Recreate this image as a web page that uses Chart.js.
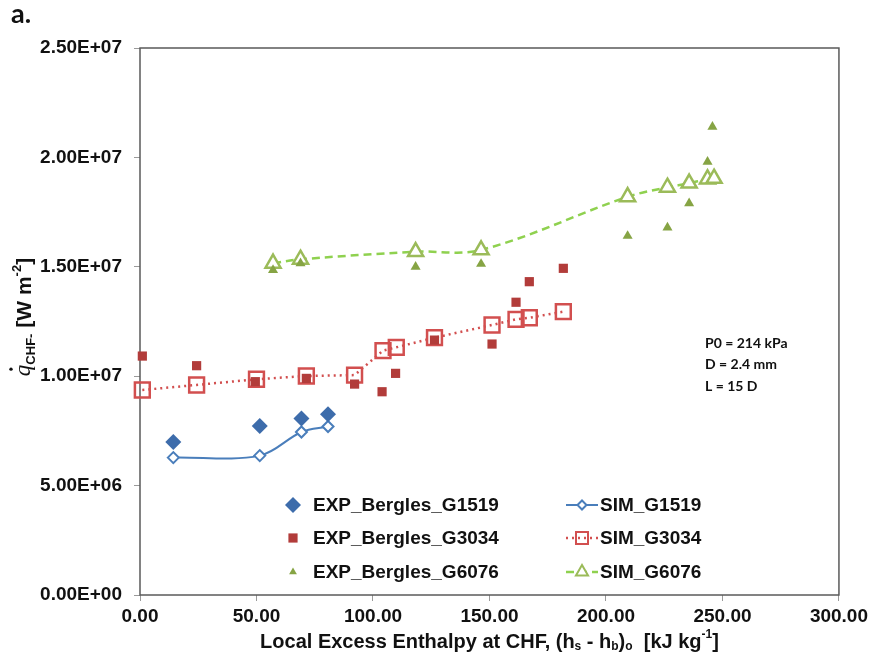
<!DOCTYPE html>
<html>
<head>
<meta charset="utf-8">
<script src="https://cdn.jsdelivr.net/npm/chart.js@4.4.1/dist/chart.umd.min.js"></script>
<style>
  html, body { margin: 0; padding: 0; background: #fff; }
  #wrap { width: 872px; height: 662px; }
</style>
</head>
<body>
<div id="wrap"><canvas id="chart" width="872" height="662"></canvas></div>
<script>
// ── Données ───────────────────────────────────────────────────────────────────
const xTicks = [0, 50, 100, 150, 200, 250, 300];
const yTicks = [0, 5e6, 1e7, 1.5e7, 2e7, 2.5e7];

const expG1519X = [14.3, 51.4, 69.3, 80.7];
const expG1519Y = [6.99e6, 7.72e6, 8.07e6, 8.26e6];
const simG1519X = [14.3, 51.4, 69.3, 80.7];
const simG1519Y = [6.28e6, 6.37e6, 7.45e6, 7.70e6];

const expG3034X = [1.0, 24.3, 49.5, 71.4, 92.1, 103.9, 109.7, 126.4, 151.1, 161.4, 167.1, 181.7];
const expG3034Y = [10.92e6, 10.48e6, 9.75e6, 9.90e6, 9.64e6, 9.29e6, 10.13e6, 11.65e6, 11.47e6, 13.38e6, 14.32e6, 14.93e6];
const simG3034X = [1.0, 24.3, 50.0, 71.4, 92.1, 104.3, 110.0, 126.4, 151.1, 161.4, 167.1, 181.7];
const simG3034Y = [9.37e6, 9.60e6, 9.86e6, 10.01e6, 10.05e6, 11.17e6, 11.32e6, 11.76e6, 12.34e6, 12.60e6, 12.67e6, 12.95e6];

const expG6076X = [57.1, 68.9, 118.3, 146.4, 209.3, 226.4, 235.7, 243.6, 245.7];
const expG6076Y = [14.85e6, 15.16e6, 15.00e6, 15.13e6, 16.41e6, 16.79e6, 17.90e6, 19.80e6, 21.40e6];
const simG6076X = [57.1, 68.9, 118.3, 146.4, 209.3, 226.4, 235.7, 243.6, 246.4];
const simG6076Y = [15.16e6, 15.34e6, 15.69e6, 15.77e6, 18.20e6, 18.63e6, 18.82e6, 19.01e6, 19.04e6];

const notes = ["P0 = 214 kPa", "D = 2.4 mm", "L = 15 D"];

// ── Styles ────────────────────────────────────────────────────────────────────
const SANS = "'Liberation Sans', Arial, sans-serif";
const C = {
  expBlue: "#3D6CAB", simBlue: "#4A7EBB",
  expRed: "#B23C3A",  simRed: "#D24F4F",
  expGreen: "#86A444", simGreen: "#9BBB59", lineGreen: "#8FD14F",
  axis: "#5a5a5a", tick: "#9a9a9a", text: "#111",
};

const pts = (xs, ys) => xs.map((x, i) => ({ x, y: ys[i] }));

const sci = v => {
  if (v === 0) return "0.00E+00";
  const [m, e] = v.toExponential(2).split("e");
  const n = parseInt(e, 10);
  return `${m}E${n < 0 ? "-" : "+"}${String(Math.abs(n)).padStart(2, "0")}`;
};

const datasets = [
  { label: "EXP_Bergles_G1519", data: pts(expG1519X, expG1519Y), pointStyle: "rectRot", pointRadius: 8,
    backgroundColor: C.expBlue, borderColor: C.expBlue, pointBorderWidth: 0, showLine: false, order: 1 },
  { label: "EXP_Bergles_G3034", data: pts(expG3034X, expG3034Y), pointStyle: "rect", pointRadius: 6.5,
    backgroundColor: C.expRed, borderColor: C.expRed, pointBorderWidth: 0, showLine: false, order: 1 },
  { label: "EXP_Bergles_G6076", data: pts(expG6076X, expG6076Y), pointStyle: "triangle", pointRadius: 5.8,
    backgroundColor: C.expGreen, borderColor: C.expGreen, pointBorderWidth: 0, showLine: false, order: 1 },
  { label: "SIM_G1519", data: pts(simG1519X, simG1519Y), pointStyle: "rectRot", pointRadius: 5.5,
    pointBackgroundColor: "#fff", pointBorderColor: C.simBlue, pointBorderWidth: 2,
    borderColor: C.simBlue, borderWidth: 2, showLine: true, tension: 0.35, order: 2 },
  { label: "SIM_G3034", data: pts(simG3034X, simG3034Y), pointStyle: "rect", pointRadius: 10.5,
    pointBackgroundColor: "rgba(255,255,255,0)", pointBorderColor: C.simRed, pointBorderWidth: 2.5,
    borderColor: C.simRed, borderWidth: 2.5, borderDash: [2, 4], showLine: true, tension: 0, order: 2 },
  { label: "SIM_G6076", data: pts(simG6076X, simG6076Y), pointStyle: "triangle", pointRadius: 8.7,
    pointBackgroundColor: "#fff", pointBorderColor: C.simGreen, pointBorderWidth: 2.5,
    borderColor: C.lineGreen, borderWidth: 2.5, borderDash: [8, 5], showLine: true, tension: 0.35, order: 2 },
];

// ── Légende + textes dessinés dans le graphique ──────────────────────────────
function drawRich(ctx, parts, cx, cy) {
  // parts: [texte, police, décalage vertical]
  let total = 0;
  parts.forEach(p => { ctx.font = p[1]; total += ctx.measureText(p[0]).width; });
  let x = cx - total / 2;
  const pos = [];
  parts.forEach(p => {
    ctx.font = p[1];
    ctx.fillText(p[0], x, cy + p[2]);
    pos.push(x);
    x += ctx.measureText(p[0]).width;
  });
  return pos;
}

const frame = {
  id: "frame",
  beforeDatasetsDraw(chart) {
    const { ctx, chartArea: a } = chart;
    ctx.save();
    ctx.strokeStyle = C.axis;
    ctx.lineWidth = 1.5;
    ctx.strokeRect(a.left, a.top, a.right - a.left, a.bottom - a.top);
    ctx.restore();
  },
  afterDraw(chart) {
    const { ctx, chartArea: a } = chart;
    const drawPoint = Chart.helpers.drawPoint;
    ctx.save();
    ctx.fillStyle = C.text;
    ctx.textBaseline = "middle";
    ctx.textAlign = "left";

    // légende (2 colonnes)
    const rows = [505, 538, 572];
    const legendFont = `bold 19px ${SANS}`;
    [[0, 3, 8], [1, 4, 6.5], [2, 5, 4.5]].forEach(([e, s, er], i) => {
      const y = rows[i];
      const de = datasets[e], ds = datasets[s];
      ctx.fillStyle = de.backgroundColor;
      drawPoint(ctx, { pointStyle: de.pointStyle, radius: er, borderWidth: 0, rotation: 0 }, 293, y);

      ctx.save();
      ctx.strokeStyle = ds.borderColor;
      ctx.lineWidth = ds.borderWidth;
      ctx.setLineDash(ds.borderDash || []);
      ctx.beginPath(); ctx.moveTo(566, y); ctx.lineTo(598, y); ctx.stroke();
      ctx.setLineDash([]);
      ctx.fillStyle = ds.pointBackgroundColor;
      ctx.strokeStyle = ds.pointBorderColor;
      ctx.lineWidth = 2;
      drawPoint(ctx, { pointStyle: ds.pointStyle, radius: [4.5, 8.5, 7][i], borderWidth: 2, rotation: 0 }, 582, y);
      ctx.restore();

      ctx.fillStyle = C.text;
      ctx.font = legendFont;
      ctx.fillText(de.label, 313, y + 1);
      ctx.fillText(ds.label, 600, y + 1);
    });

    // conditions
    ctx.font = "bold 14px Lato, 'Open Sans', sans-serif";
    notes.forEach((t, i) => ctx.fillText(t, 705, 343 + i * 21.5));

    // repère de sous-figure
    ctx.textBaseline = "alphabetic";
    ctx.font = "bold 27px Lato, 'Open Sans', sans-serif";
    ctx.fillText("a.", 11, 23);

    // titre axe x
    ctx.textBaseline = "middle";
    const big = `bold 20px ${SANS}`, small = `bold 12px ${SANS}`;
    drawRich(ctx, [
      ["Local Excess Enthalpy at CHF, (h", big, 0], ["s", small, 5], [" - h", big, 0], ["b", small, 5],
      [")", big, 0], ["o", small, 5], ["  [kJ kg", big, 0], ["-1", small, -7], ["]", big, 0],
    ], (a.left + a.right) / 2, 642);

    // titre axe y (tourné)
    ctx.translate(25, 317);
    ctx.rotate(-Math.PI / 2);
    const yb = `bold 21px ${SANS}`, ys = `bold 13px ${SANS}`;
    const pos = drawRich(ctx, [
      ["q", "italic 23px 'Liberation Serif', serif", -1], ["CHF-", ys, 6], [" [W m", yb, 0], ["-2", ys, -8], ["]", yb, 0],
    ], 0, 0);
    ctx.beginPath();
    ctx.arc(pos[0] + 7, -14, 1.7, 0, Math.PI * 2);
    ctx.fill();
    ctx.restore();
  },
};

const tickFont = { family: SANS, size: 19, weight: "bold" };

new Chart(document.getElementById("chart"), {
  type: "scatter",
  data: { datasets: datasets.map(d => ({ ...d, clip: false })) },
  options: {
    responsive: false,
    animation: false,
    layout: { padding: { left: 0, top: 48, right: 33, bottom: 0 } },
    plugins: { legend: { display: false }, tooltip: { enabled: false } },
    scales: {
      x: {
        type: "linear", min: xTicks[0], max: xTicks[xTicks.length - 1],
        afterBuildTicks: s => { s.ticks = xTicks.map(v => ({ value: v })); },
        afterFit: s => { s.height = 67; },
        ticks: { callback: v => v.toFixed(2), font: tickFont, color: C.text, padding: 4, maxRotation: 0 },
        grid: { drawOnChartArea: false, tickLength: 6, color: C.tick },
        border: { display: false },
      },
      y: {
        type: "linear", min: yTicks[0], max: yTicks[yTicks.length - 1],
        afterBuildTicks: s => { s.ticks = yTicks.map(v => ({ value: v })); },
        afterFit: s => { s.width = 140; },
        ticks: { callback: v => sci(v), font: tickFont, color: C.text, padding: 12 },
        grid: { drawOnChartArea: false, tickLength: 6, color: C.tick },
        border: { display: false },
      },
    },
  },
  plugins: [frame],
});
</script>
</body>
</html>
